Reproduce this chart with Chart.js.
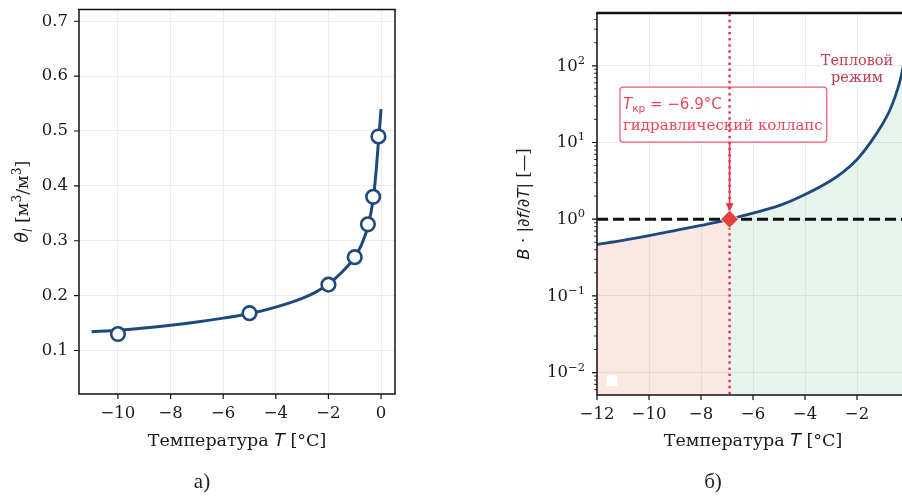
<!DOCTYPE html>
<html>
<head>
<meta charset="utf-8">
<script src="https://cdn.jsdelivr.net/npm/chart.js@4.4.1/dist/chart.umd.min.js"></script>
<style>
    html, body { margin: 0; padding: 0; background: #fff; }
    body { position: relative; width: 902px; height: 498px; overflow: hidden; }
    #chartA { position: absolute; left: 0; top: 0; }
    #chartB { position: absolute; left: 500px; top: 0; }
    .caption { position: absolute; top: 469px; font: 21px "Liberation Serif", serif; color: #222; transform: translateX(-50%); }
</style>
</head>
<body>
<canvas id="chartA" width="440" height="470"></canvas>
<canvas id="chartB" width="440" height="470"></canvas>
<div class="caption" style="left:202px">а)</div>
<div class="caption" style="left:713px">б)</div>

<script>
// --- panel a: liquid water content vs temperature ---
const thetaFitT = [-11, -10, -9, -8, -7, -6, -5, -4, -3, -2.5, -2, -1.5, -1, -0.75, -0.5, -0.3, -0.2, -0.1, 0];
const thetaFitVal = [0.134, 0.137, 0.141, 0.146, 0.152, 0.159, 0.167, 0.179, 0.195, 0.206, 0.221, 0.242, 0.27, 0.292, 0.326, 0.375, 0.42, 0.48, 0.54];
const thetaObsT = [-10, -5, -2, -1, -0.5, -0.3, -0.1];
const thetaObsVal = [0.13, 0.168, 0.22, 0.27, 0.33, 0.38, 0.49];
const thetaXTicks = [-10, -8, -6, -4, -2, 0];
const thetaYTicks = [0.1, 0.2, 0.3, 0.4, 0.5, 0.6, 0.7];

// --- panel b: sensitivity B·|df/dT| ---
const sensT = [-12, -11, -10, -9, -8, -7, -6.9, -6, -5, -4, -3, -2.5, -2, -1.5, -1, -0.75, -0.5, -0.35, -0.25, -0.15, -0.1, -0.05];
const sensVal = [0.47, 0.53, 0.61, 0.71, 0.83, 0.98, 1.0, 1.2, 1.5, 2.1, 3.2, 4.2, 6.0, 9.8, 17.8, 25.7, 42.7, 63, 89, 150, 230, 520];
const tCrit = -6.9;
const critLevel = 1;
const sensXTicks = [-12, -10, -8, -6, -4, -2, 0];
const sensYDecades = [0.01, 0.1, 1, 10, 100];

const BLUE = '#1c4a7c';
const SERIF = '"DejaVu Serif"';
const SANS = '"DejaVu Sans"';
const TICK_PX = 16.5;
const TITLE_PX = 17.5;

Chart.defaults.font.family = SERIF;
Chart.defaults.color = '#1a1a1a';

const pts = (xs, ys) => xs.map((x, i) => ({ x, y: ys[i] }));
const fmt = v => (v < 0 ? '\u2212' + Math.abs(v) : String(v));

function zeroPad(s) {
    s.paddingLeft = s.paddingRight = s.paddingTop = s.paddingBottom = 0;
}

// mixed-font text: parts = [{t, f: 'serif'|'math'|'mathup', s: 'sub'|'sup'}]
function partFont(p, size) {
    const px = p.s ? size * 0.7 : size;
    if (p.f === 'math') return `italic ${px}px ${SANS}`;
    if (p.f === 'mathup') return `${px}px ${SANS}`;
    return `${px}px ${SERIF}`;
}

function drawRich(ctx, parts, x, y, size, align) {
    let w = 0;
    parts.forEach(p => { ctx.font = partFont(p, size); w += ctx.measureText(p.t).width; });
    let cx = align === 'left' ? x : x - w / 2;
    ctx.textAlign = 'left';
    ctx.textBaseline = 'alphabetic';
    parts.forEach(p => {
        ctx.font = partFont(p, size);
        const dy = p.s === 'sub' ? size * 0.25 : p.s === 'sup' ? -size * 0.42 : 0;
        ctx.fillText(p.t, cx, y + dy);
        cx += ctx.measureText(p.t).width;
    });
    return w;
}

const tempTitle = [{ t: 'Температура ' }, { t: 'T', f: 'math' }, { t: ' [°C]' }];

function drawFrame(ctx, a, topWidth) {
    ctx.save();
    ctx.strokeStyle = '#111';
    ctx.lineWidth = 1.5;
    ctx.beginPath();
    ctx.moveTo(a.left, a.top); ctx.lineTo(a.left, a.bottom); ctx.lineTo(a.right, a.bottom); ctx.lineTo(a.right, a.top);
    ctx.stroke();
    ctx.lineWidth = topWidth;
    ctx.beginPath();
    ctx.moveTo(a.left - 0.75, a.top); ctx.lineTo(a.right + 0.75, a.top);
    ctx.stroke();
    ctx.restore();
}

function drawTickMarks(ctx, chart, minorY) {
    const { chartArea: a, scales: { x, y } } = chart;
    ctx.save();
    ctx.strokeStyle = '#111';
    ctx.lineWidth = 1.2;
    ctx.beginPath();
    x.ticks.forEach(t => {
        const px = x.getPixelForValue(t.value);
        ctx.moveTo(px, a.bottom); ctx.lineTo(px, a.bottom + 5);
    });
    y.ticks.forEach(t => {
        const py = y.getPixelForValue(t.value);
        ctx.moveTo(a.left, py); ctx.lineTo(a.left - 5, py);
    });
    ctx.stroke();
    if (minorY) {
        ctx.lineWidth = 0.9;
        ctx.beginPath();
        for (let e = -3; e <= 2; e++) {
            for (let k = 2; k <= 9; k++) {
                const v = k * Math.pow(10, e);
                if (v < y.min || v > y.max) continue;
                const py = y.getPixelForValue(v);
                ctx.moveTo(a.left, py); ctx.lineTo(a.left - 2.8, py);
            }
        }
        ctx.stroke();
    }
    ctx.restore();
}

// ---------------- panel a ----------------
const decorA = {
    id: 'decorA',
    afterDraw(chart) {
        const { ctx, chartArea: a } = chart;
        drawFrame(ctx, a, 1.5);
        drawTickMarks(ctx, chart, false);
        ctx.save();
        ctx.fillStyle = '#1a1a1a';
        drawRich(ctx, tempTitle, (a.left + a.right) / 2, 446, TITLE_PX);
        ctx.translate(28, (a.top + a.bottom) / 2);
        ctx.rotate(-Math.PI / 2);
        drawRich(ctx, [
            { t: 'θ', f: 'math' }, { t: 'l', f: 'math', s: 'sub' }, { t: ' [м' }, { t: '3', s: 'sup' },
            { t: '/м' }, { t: '3', s: 'sup' }, { t: ']' }
        ], 0, 0, TITLE_PX);
        ctx.restore();
    }
};

new Chart(document.getElementById('chartA'), {
    type: 'line',
    data: {
        datasets: [
            {
                data: pts(thetaObsT, thetaObsVal),
                showLine: false,
                pointRadius: 6.8,
                pointBorderWidth: 2.6,
                pointBackgroundColor: '#fff',
                pointBorderColor: BLUE,
                order: 0
            },
            {
                data: pts(thetaFitT, thetaFitVal),
                borderColor: BLUE,
                borderWidth: 3,
                pointRadius: 0,
                cubicInterpolationMode: 'monotone',
                order: 1
            }
        ]
    },
    options: {
        responsive: false,
        animation: false,
        layout: { padding: { left: 0, top: 5, right: 45, bottom: 0 } },
        plugins: { legend: { display: false }, tooltip: { enabled: false } },
        scales: {
            x: {
                type: 'linear', min: -11.48, max: 0.53,
                afterBuildTicks: s => { s.ticks = thetaXTicks.map(v => ({ value: v })); },
                afterFit: s => { s.height = 76; zeroPad(s); },
                grid: { color: '#ececec', drawTicks: false },
                border: { display: false },
                ticks: { autoSkip: false, maxRotation: 0, padding: 10, font: { size: TICK_PX }, callback: v => fmt(v) }
            },
            y: {
                type: 'linear', min: 0.0207, max: 0.7216,
                afterBuildTicks: s => { s.ticks = thetaYTicks.map(v => ({ value: v })); },
                afterFit: s => { s.width = 79; zeroPad(s); },
                grid: { color: '#ececec', drawTicks: false },
                border: { display: false },
                ticks: { autoSkip: false, padding: 11, font: { size: TICK_PX }, callback: v => fmt(v) }
            }
        }
    },
    plugins: [decorA]
});

// ---------------- panel b ----------------
const decorB = {
    id: 'decorB',
    beforeDatasetsDraw(chart) {
        const { ctx, scales: { x, y } } = chart;
        // annotation box for the critical temperature
        const tx = x.getPixelForValue(-11);
        const ty = y.getPixelForValue(23.5);
        ctx.save();
        ctx.font = `15px ${SERIF}`;
        const w2 = ctx.measureText('гидравлический коллапс').width;
        const bx = tx - 3, by = ty - 27, bw = w2 + 7, bh = 55;
        ctx.fillStyle = 'rgba(255,255,255,0.85)';
        ctx.strokeStyle = '#ec5a6c';
        ctx.lineWidth = 1.2;
        ctx.beginPath();
        ctx.roundRect(bx, by, bw, bh, 3);
        ctx.fill();
        ctx.stroke();
        ctx.fillStyle = '#e8475f';
        drawRich(ctx, [
            { t: 'T', f: 'math' }, { t: 'кр', f: 'mathup', s: 'sub' }, { t: ' = \u22126.9°C', f: 'mathup' }
        ], tx, ty - 5.5, 15, 'left');
        drawRich(ctx, [{ t: 'гидравлический коллапс' }], tx, ty + 16, 15, 'left');

        // arrow from the box down to the marker
        const ax = x.getPixelForValue(tCrit);
        const ay = y.getPixelForValue(critLevel) - 8;
        ctx.strokeStyle = '#e8333a';
        ctx.fillStyle = '#e8333a';
        ctx.lineWidth = 1.5;
        ctx.beginPath();
        ctx.moveTo(ax, by + bh); ctx.lineTo(ax, ay - 6);
        ctx.stroke();
        ctx.beginPath();
        ctx.moveTo(ax, ay); ctx.lineTo(ax - 4, ay - 8); ctx.lineTo(ax + 4, ay - 8);
        ctx.closePath();
        ctx.fill();

        // regime label
        ctx.fillStyle = '#c23c52';
        ctx.font = `14.5px ${SERIF}`;
        ctx.textAlign = 'center';
        ctx.textBaseline = 'middle';
        const rx = x.getPixelForValue(-2), ry = y.getPixelForValue(90);
        ctx.fillText('Тепловой', rx, ry - 8.5);
        ctx.fillText('режим', rx, ry + 8.5);
        ctx.restore();
    },
    afterDatasetsDraw(chart) {
        const { ctx, chartArea: a } = chart;
        // empty legend handle
        ctx.save();
        ctx.fillStyle = '#fff';
        ctx.fillRect(a.left + 10, a.bottom - 20, 10, 11);
        ctx.restore();
    },
    afterDraw(chart) {
        const { ctx, chartArea: a, scales: { y } } = chart;
        drawFrame(ctx, a, 2.3);
        drawTickMarks(ctx, chart, true);
        ctx.save();
        ctx.fillStyle = '#1a1a1a';
        // log tick labels 10^n
        sensYDecades.forEach(v => {
            const py = y.getPixelForValue(v);
            const e = Math.round(Math.log10(v));
            const sup = e < 0 ? '\u2212' + (-e) : String(e);
            const right = a.left - 12;
            ctx.textAlign = 'right';
            ctx.textBaseline = 'middle';
            ctx.font = `11.5px ${SERIF}`;
            const ws = ctx.measureText(sup).width;
            ctx.fillText(sup, right, py - 5);
            ctx.font = `${TICK_PX}px ${SERIF}`;
            ctx.fillText('10', right - ws, py + 0.5);
        });
        drawRich(ctx, tempTitle, (a.left + a.right) / 2, 446, TITLE_PX);
        ctx.translate(29, (a.top + a.bottom) / 2);
        ctx.rotate(-Math.PI / 2);
        drawRich(ctx, [
            { t: 'B', f: 'math' }, { t: ' · |∂', f: 'mathup' }, { t: 'f', f: 'math' }, { t: '/∂', f: 'mathup' },
            { t: 'T', f: 'math' }, { t: '|', f: 'mathup' }, { t: ' [—]' }
        ], 0, 0, 16.5);
        ctx.restore();
    }
};

const lowSide = pts(sensT, sensVal).filter(p => p.x <= tCrit);
const highSide = pts(sensT, sensVal).filter(p => p.x >= tCrit);

new Chart(document.getElementById('chartB'), {
    type: 'line',
    data: {
        datasets: [
            {
                // critical point
                data: [{ x: tCrit, y: critLevel }],
                showLine: false,
                pointStyle: 'rectRot',
                pointRadius: 9,
                pointBackgroundColor: '#e8413c',
                pointBorderColor: '#fff',
                pointBorderWidth: 1,
                order: 0
            },
            {
                data: [{ x: tCrit, y: 0.001 }, { x: tCrit, y: 1000 }],
                borderColor: '#ee3458',
                borderWidth: 2.5,
                borderDash: [2.5, 3.6],
                pointRadius: 0,
                order: 1
            },
            {
                data: [{ x: -12, y: critLevel }, { x: 0, y: critLevel }],
                borderColor: '#111',
                borderWidth: 3,
                borderDash: [11, 5],
                pointRadius: 0,
                order: 2
            },
            {
                data: pts(sensT, sensVal),
                borderColor: BLUE,
                borderWidth: 2.8,
                pointRadius: 0,
                cubicInterpolationMode: 'monotone',
                order: 3
            },
            {
                data: highSide,
                borderWidth: 0,
                borderColor: 'transparent',
                backgroundColor: 'rgba(70, 180, 125, 0.13)',
                fill: 'start',
                pointRadius: 0,
                cubicInterpolationMode: 'monotone',
                order: 4
            },
            {
                data: lowSide,
                borderWidth: 0,
                borderColor: 'transparent',
                backgroundColor: 'rgba(230, 95, 75, 0.15)',
                fill: 'start',
                pointRadius: 0,
                cubicInterpolationMode: 'monotone',
                order: 5
            }
        ]
    },
    options: {
        responsive: false,
        animation: false,
        layout: { padding: { left: 0, top: 13, right: 31, bottom: 0 } },
        plugins: { legend: { display: false }, tooltip: { enabled: false } },
        scales: {
            x: {
                type: 'linear', min: -12, max: 0,
                afterBuildTicks: s => { s.ticks = sensXTicks.map(v => ({ value: v })); },
                afterFit: s => { s.height = 75; zeroPad(s); },
                grid: { color: '#ececec', drawTicks: false },
                border: { display: false },
                ticks: { autoSkip: false, maxRotation: 0, padding: 10, font: { size: TICK_PX }, callback: v => fmt(v) }
            },
            y: {
                type: 'logarithmic', min: 0.0051, max: 488,
                afterBuildTicks: s => { s.ticks = sensYDecades.map(v => ({ value: v, major: true })); },
                afterFit: s => { s.width = 97; zeroPad(s); },
                grid: { color: '#ececec', drawTicks: false },
                border: { display: false },
                ticks: { display: false, autoSkip: false }
            }
        }
    },
    plugins: [decorB]
});
</script>
</body>
</html>
